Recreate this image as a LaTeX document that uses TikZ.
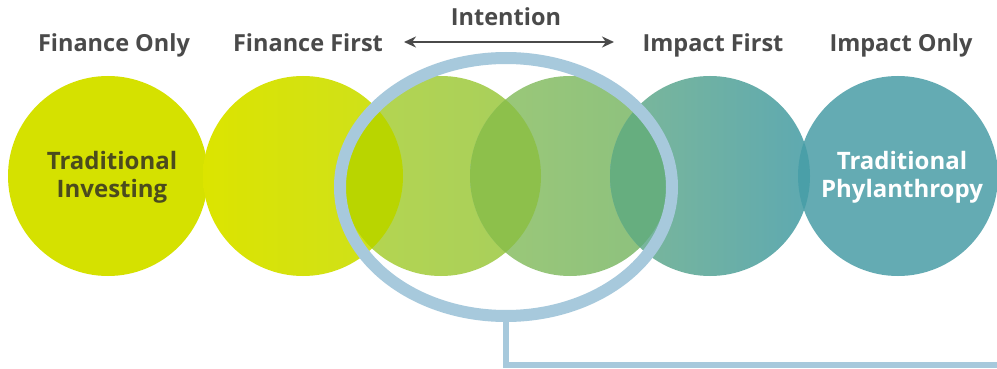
\documentclass[tikz,border=0pt]{standalone}
\usepackage{fontspec}
\setmainfont{Open Sans}
\usetikzlibrary{arrows.meta,shapes.geometric}
\definecolor{finOnly}{HTML}{D5E100}
\definecolor{finFirstL}{HTML}{DCE400}
\definecolor{finFirstR}{HTML}{CDE01E}
\definecolor{midL}{HTML}{B6D64E}
\definecolor{midR}{HTML}{A6CE5E}
\definecolor{grnL}{HTML}{9DC977}
\definecolor{grnR}{HTML}{8BC07F}
\definecolor{impFirstL}{HTML}{7DB898}
\definecolor{impFirstR}{HTML}{5EA9B1}
\definecolor{impOnly}{HTML}{64ABB3}
\definecolor{lapA}{HTML}{B9D500}
\definecolor{lapB}{HTML}{8DC04B}
\definecolor{lapC}{HTML}{66AE7F}
\definecolor{lapD}{HTML}{4A9FA8}
\definecolor{ringBlue}{HTML}{A7C9DC}
\definecolor{labelGray}{HTML}{4A4A4A}
\definecolor{oliveText}{HTML}{4B4B1E}
\tikzset{
  heading/.style={font=\fontsize{23.5}{28}\selectfont\bfseries, text=labelGray, anchor=base},
  inner/.style={font=\fontsize{24}{28}\selectfont\bfseries, align=center}
}
\begin{document}
\begin{tikzpicture}[x=1pt,y=-1pt]
    \useasboundingbox (0,0) rectangle (997,369);
    \fill[white] (0,0) rectangle (997,369);

    % Centros dos circulos
    \coordinate (c1) at (108,176);
    \coordinate (c2) at (303,176);
    \coordinate (c3) at (441,176);
    \coordinate (c4) at (570,176);
    \coordinate (c5) at (710,176);
    \coordinate (c6) at (898,176);

    % Circulos
    \fill[finOnly] (c1) circle (100);
    \shade[left color=finFirstL, right color=finFirstR] (c2) circle (100);
    \shade[left color=midL, right color=midR] (c3) circle (100);
    \shade[left color=grnL, right color=grnR] (c4) circle (100);
    \shade[left color=impFirstL, right color=impFirstR] (c5) circle (100);
    \fill[impOnly] (c6) circle (100);

    % Sobreposicoes
    \begin{scope}
      \clip (c2) circle (100);
      \fill[lapA] (c3) circle (100);
    \end{scope}
    \begin{scope}
      \clip (c3) circle (100);
      \fill[lapB] (c4) circle (100);
    \end{scope}
    \begin{scope}
      \clip (c4) circle (100);
      \fill[lapC] (c5) circle (100);
    \end{scope}
    \begin{scope}
      \clip (c5) circle (100);
      \fill[lapD] (c6) circle (100);
    \end{scope}

    % Titulos
    \node[heading] (finOnlyTxt) at (114,52) {Finance Only};
    \node[heading] (finFirstTxt) at (308,52) {Finance First};
    \node[heading] (impFirstTxt) at (713,52) {Impact First};
    \node[heading] (impOnlyTxt) at (901,52) {Impact Only};
    \node[heading] (intention) at (506,26) {Intention};

    % Seta da intencao
    \coordinate (arrL) at (404,42);
    \coordinate (arrR) at (614,42);
    \draw[labelGray, line width=2.5, {Stealth[length=12,width=11]}-{Stealth[length=12,width=11]}] (arrL) -- (arrR);

    % Textos internos
    \node[inner, text=oliveText] (tradInv) at (112,177) {Traditional\\Investing};
    \node[inner, text=white] (tradPhil) at (902,177) {Traditional\\Phylanthropy};

    % Anel e conector
    \node[draw=ringBlue, line width=12, ellipse, minimum width=332, minimum height=258, inner sep=0] (ring) at (506,187) {};
    \coordinate (exit) at (997,365);
    \draw[ringBlue, line width=6] (ring.south) |- (exit);
  \end{tikzpicture}
\end{document}
